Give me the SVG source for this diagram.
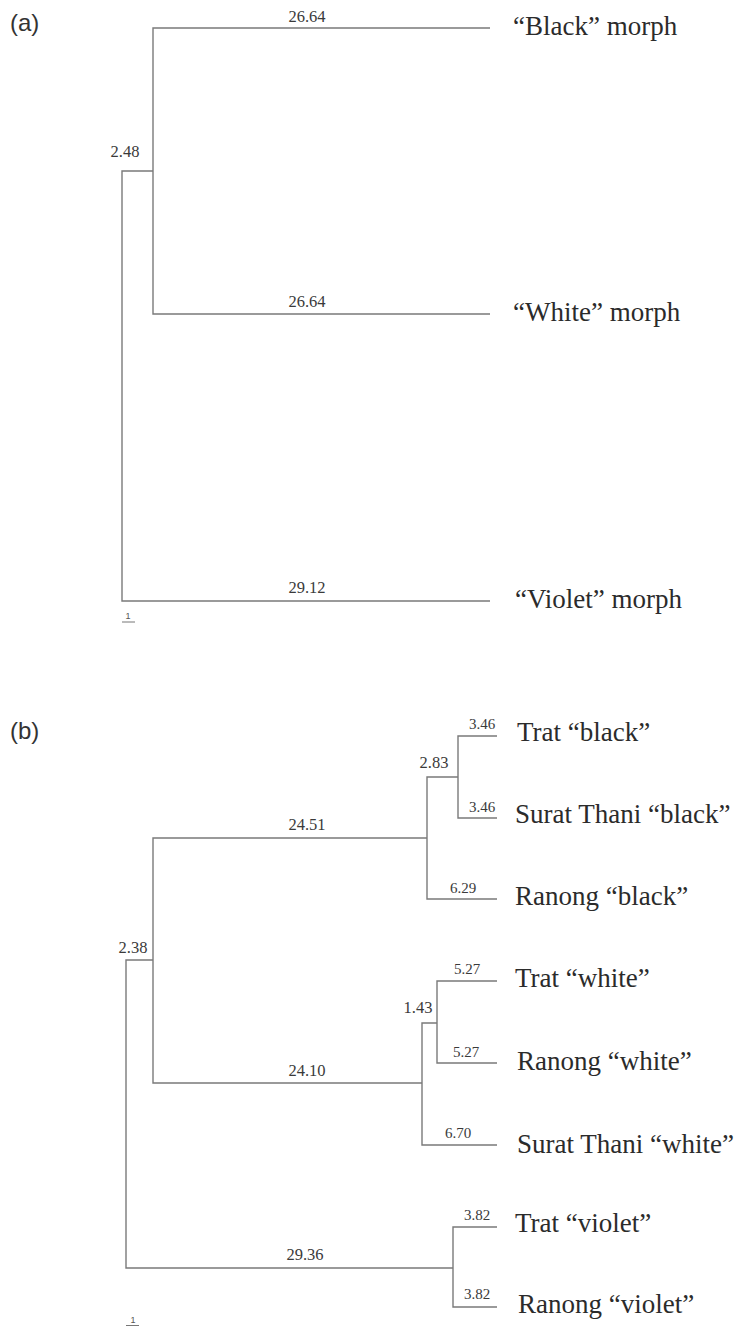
<svg xmlns="http://www.w3.org/2000/svg" width="742" height="1326" viewBox="0 0 742 1326">
  <style>
    .br { fill: none; stroke: #7a7a7a; stroke-width: 1.4; }
    .tip { font-family: "Liberation Serif", "Times New Roman", serif; font-size: 27px; fill: #2b2b2b; }
    .len { font-family: "Liberation Serif", "Times New Roman", serif; font-size: 16.5px; fill: #3a3a3a; text-anchor: middle; }
    .sm { font-family: "Liberation Serif", "Times New Roman", serif; font-size: 15px; fill: #3a3a3a; text-anchor: middle; }
    .panel { font-family: "Liberation Sans", Arial, sans-serif; font-size: 24px; fill: #333; }
    .scale { font-family: "Liberation Sans", Arial, sans-serif; font-size: 9px; fill: #555; text-anchor: middle; }
    .sbar { stroke: #777; stroke-width: 1; }
  </style>
  <rect width="742" height="1326" fill="#fff"/>

  <!-- panel (a): three colour morphs -->
  <text class="panel" x="10" y="31">(a)</text>
  <g id="connectors-a">
    <path class="br" d="M490,28 H153 V314 H490"/>
    <path class="br" d="M153,171 H122 V601 H490"/>
    <line class="sbar" x1="122" y1="622" x2="135" y2="622"/>
  </g>
  <g id="a-black"><text class="tip" x="513" y="35">“Black” morph</text><text class="len" x="307" y="22">26.64</text></g>
  <g id="a-white"><text class="tip" x="513" y="321">“White” morph</text><text class="len" x="307" y="307">26.64</text></g>
  <g id="a-violet"><text class="tip" x="515" y="608">“Violet” morph</text><text class="len" x="307" y="593">29.12</text></g>
  <g id="a-node-bw"><text class="len" x="125" y="157">2.48</text></g>
  <g id="a-scale"><text class="scale" x="128" y="619">1</text></g>

  <!-- panel (b): populations -->
  <text class="panel" x="10" y="739">(b)</text>
  <g id="connectors-b">
    <!-- black clade -->
    <path class="br" d="M497,736 H458 V818 H497"/>
    <path class="br" d="M458,777 H427 V899 H497"/>
    <!-- white clade -->
    <path class="br" d="M497,981 H437 V1063 H497"/>
    <path class="br" d="M437,1023 H422 V1145 H497"/>
    <!-- black + white -->
    <path class="br" d="M427,838 H153 V1083 H422"/>
    <!-- violet clade -->
    <path class="br" d="M497,1227 H453 V1307 H497"/>
    <!-- root -->
    <path class="br" d="M153,960 H126 V1268 H453"/>
    <line class="sbar" x1="126" y1="1325.5" x2="139" y2="1325.5"/>
  </g>
  <g id="b-trat-black"><text class="tip" x="517" y="741">Trat “black”</text><text class="sm" x="482" y="729">3.46</text></g>
  <g id="b-surat-black"><text class="tip" x="515" y="823">Surat Thani “black”</text><text class="sm" x="482" y="812">3.46</text></g>
  <g id="b-ranong-black"><text class="tip" x="515" y="905">Ranong “black”</text><text class="sm" x="463" y="893">6.29</text></g>
  <g id="b-trat-white"><text class="tip" x="515" y="987">Trat “white”</text><text class="sm" x="467" y="974">5.27</text></g>
  <g id="b-ranong-white"><text class="tip" x="517" y="1070">Ranong “white”</text><text class="sm" x="466" y="1057">5.27</text></g>
  <g id="b-surat-white"><text class="tip" x="517" y="1153">Surat Thani “white”</text><text class="sm" x="458" y="1138">6.70</text></g>
  <g id="b-trat-violet"><text class="tip" x="515" y="1232">Trat “violet”</text><text class="sm" x="477" y="1220">3.82</text></g>
  <g id="b-ranong-violet"><text class="tip" x="518" y="1313">Ranong “violet”</text><text class="sm" x="477" y="1299">3.82</text></g>
  <g id="b-node-black"><text class="len" x="434" y="768">2.83</text><text class="len" x="307" y="830">24.51</text></g>
  <g id="b-node-white"><text class="len" x="418" y="1013">1.43</text><text class="len" x="307" y="1076">24.10</text></g>
  <g id="b-node-violet"><text class="len" x="305" y="1260">29.36</text></g>
  <g id="b-root"><text class="len" x="133" y="953">2.38</text></g>
  <g id="b-scale"><text class="scale" x="133" y="1323">1</text></g>
</svg>
